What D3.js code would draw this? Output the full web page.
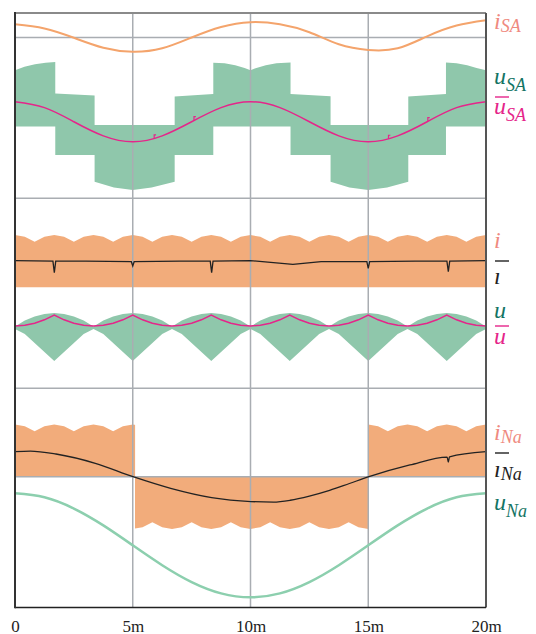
<!DOCTYPE html>
<html>
<head>
<meta charset="utf-8">
<script src="https://cdn.jsdelivr.net/npm/d3@7"></script>
<style>
  body { margin: 0; background: #fff; }
  svg { display: block; }
</style>
</head>
<body>
<div id="chart"></div>
<script>
// ---- data (time in ms) ----
const tickMs = [0, 5, 10, 15, 20];
const tickLabels = ['0', '5m', '10m', '15m', '20m'];

// 1.25 ms samples for the slow traces
const tSine = [0, 1.25, 2.5, 3.75, 5, 6.25, 7.5, 8.75, 10, 11.25, 12.5, 13.75, 15, 16.25, 17.5, 18.75, 20];
const iSA = [0.88, 0.6, -0.02, -0.68, -0.95, -0.72, 0.0, 0.7, 1.02, 0.88, 0.35, -0.45, -0.83, -0.72, 0.08, 0.8, 1.15];
const uSAmean = [0.75, 0.56, 0.105, -0.35, -0.54, -0.35, 0.105, 0.56, 0.75, 0.56, 0.105, -0.35, -0.54, -0.35, 0.105, 0.56, 0.75];
const uNa = [1, 0.924, 0.707, 0.383, 0, -0.383, -0.707, -0.924, -1, -0.924, -0.707, -0.383, 0, 0.383, 0.707, 0.924, 1];

// u_SA multilevel PWM band (upper / lower envelope, in level steps)
const uSaT  = [0, 0.4, 0.85, 1.3, 1.71, 1.71, 3.38, 3.38, 4.2, 5.0, 5.8, 6.78, 6.78, 8.42, 8.42, 8.9, 9.35, 9.75, 10,
               10.25, 10.65, 11.1, 11.7, 11.7, 13.4, 13.4, 14.2, 15.0, 15.8, 16.7, 16.7, 18.3, 18.3, 18.75, 19.2, 19.6, 20];
const uSaHi = [1.77, 1.88, 1.96, 2.01, 2.03, 1.02, 0.95, 0, 0, 0, 0, 0, 0.92, 1.0, 2.01, 1.99, 1.93, 1.84, 1.77,
               1.84, 1.93, 1.99, 2.02, 1.0, 0.93, 0, 0, 0, 0, 0, 0.92, 1.0, 2.02, 1.99, 1.93, 1.84, 1.77];
const uSaLo = [-0.05, -0.05, -0.05, -0.05, -0.05, -0.97, -0.97, -1.83, -2.02, -2.1, -2.02, -1.83, -0.97, -0.97, -0.05, -0.05, -0.05, -0.05, -0.05,
               -0.05, -0.05, -0.05, -0.05, -0.97, -0.97, -1.83, -2.02, -2.1, -2.02, -1.83, -0.97, -0.97, -0.05, -0.05, -0.05, -0.05, -0.05];
const uSaSpikeT = [5.91, 7.6, 15.86, 17.53];
const uSaSpikeV = [-0.44, 0.15, -0.45, 0.12];

// 5/12 ms samples for the ripple traces
const tRip = d3.range(49).map(k => k * 5 / 12);
const iTop = [1, .966, .87, .966, 1, .966, .87, .966, 1, .966, .87, .966, 1, .966, .87, .966, 1, .966, .87, .966,
              1, .966, .87, .966, 1, .966, .87, .966, 1, .966, .87, .966, 1, .966, .87, .966, 1, .966, .87, .966,
              1, .966, .87, .966, 1, .966, .87, .966, 1];
const uTop = [.866, .924, .966, .991, 1, .991, .966, .924, .866, .924, .966, .991, 1, .991, .966, .924,
              .866, .924, .966, .991, 1, .991, .966, .924, .866, .924, .966, .991, 1, .991, .966, .924,
              .866, .924, .966, .991, 1, .991, .966, .924, .866, .924, .966, .991, 1, .991, .966, .924, .866];
const uBot = [.84, .79, .70, .61, .52, .61, .70, .79, .84, .79, .70, .61, .52, .61, .70, .79,
              .84, .79, .70, .61, .52, .61, .70, .79, .84, .79, .70, .61, .52, .61, .70, .79,
              .84, .79, .70, .61, .52, .61, .70, .79, .84, .79, .70, .61, .52, .61, .70, .79, .84];
const uMean = [.87, .877, .897, .932, .98, .932, .897, .877, .87, .877, .897, .932, .98, .932, .897, .877,
               .87, .877, .897, .932, .98, .932, .897, .877, .87, .877, .897, .932, .98, .932, .897, .877,
               .87, .877, .897, .932, .98, .932, .897, .877, .87, .877, .897, .932, .98, .932, .897, .877, .87];

// mean DC-link current with its notches
const iMeanT = [0, 1.61, 1.67, 1.73, 3.0, 4.94, 5.0, 5.06, 7.0, 8.29, 8.35, 8.41, 10, 11.8, 13.0, 14.94, 15.0, 15.06, 17.0, 18.34, 18.4, 18.46, 20];
const iMeanV = [.51, .50, .28, .50, .50, .49, .41, .49, .50, .50, .28, .50, .51, .44, .49, .49, .36, .49, .50, .50, .30, .50, .51];

// mean neutral-arm current
const iNaMeanT = [0, 0.65, 1.74, 3.41, 5.01, 6.61, 8.35, 10.02, 10.97, 11.69, 12.5, 13.36, 14.2, 15.03, 16.77, 18.35, 18.4, 18.45, 20];
const iNaMeanV = [.478, .49, .434, .256, 0, -.223, -.40, -.475, -.485, -.45, -.37, -.26, -.13, 0, .224, .375, .28, .38, .478];
const iNaSwitch = [5.1, 15.03];

// ---- layout ----
const W = 536, H = 634;
const plotL = 15, plotR = 486, plotT = 13, plotB = 607.5;
const serif = "'Liberation Serif', 'DejaVu Serif', serif";
const col = {
  orangeLine: '#f4a46c', orangeBand: '#f2ac7b', greenBand: '#8fc7ab', greenLine: '#8ccfae',
  pink: '#e5258a', ink: '#222', grid: '#a9adb2', salmon: '#ef8a80', teal: '#137464'
};

const svg = d3.select('#chart').append('svg').attr('width', W).attr('height', H);
const x = d3.scaleLinear().domain([0, 20]).range([plotL, plotR]);

const yISA = d3.scaleLinear().domain([-1, 1]).range([52.5, 22.5]);
const yUSA = d3.scaleLinear().domain([-2, 2]).range([187, 63]);
const yI = d3.scaleLinear().domain([0, 1]).range([287.3, 235]);
const yU = d3.scaleLinear().domain([0, 1]).range([413, 313]);
const yINa = d3.scaleLinear().domain([-1, 1]).range([529, 424.4]);
const yUNa = d3.scaleLinear().domain([-1, 1]).range([597.3, 493.3]);

const zip = (ts, ...cols) => ts.map((t, k) => [t, ...cols.map(c => c[k])]);

// clip paths for the neutral-arm current sign
const defs = svg.append('defs');
defs.append('clipPath').attr('id', 'posNa').selectAll('rect')
  .data([[0, iNaSwitch[0]], [iNaSwitch[1], 20]]).join('rect')
  .attr('x', d => x(d[0])).attr('width', d => x(d[1]) - x(d[0]))
  .attr('y', 0).attr('height', H);
defs.append('clipPath').attr('id', 'negNa').append('rect')
  .attr('x', x(iNaSwitch[0])).attr('width', x(iNaSwitch[1]) - x(iNaSwitch[0]))
  .attr('y', 0).attr('height', H);

// ---- bands ----
const bands = svg.append('g');
bands.append('path')
  .datum(zip(uSaT, uSaHi, uSaLo))
  .attr('fill', col.greenBand)
  .attr('d', d3.area().x(d => x(d[0])).y0(d => yUSA(d[2])).y1(d => yUSA(d[1])));

bands.append('path')
  .datum(zip(tRip, iTop))
  .attr('fill', col.orangeBand)
  .attr('d', d3.area().x(d => x(d[0])).y0(yI(0)).y1(d => yI(d[1])));

bands.append('path')
  .datum(zip(tRip, uTop, uBot))
  .attr('fill', col.greenBand)
  .attr('d', d3.area().x(d => x(d[0])).y0(d => yU(d[2])).y1(d => yU(d[1])));

bands.append('path')
  .datum(zip(tRip, iTop))
  .attr('fill', col.orangeBand)
  .attr('clip-path', 'url(#posNa)')
  .attr('d', d3.area().x(d => x(d[0])).y0(yINa(0)).y1(d => yINa(d[1])));

bands.append('path')
  .datum(zip(tRip, iTop))
  .attr('fill', col.orangeBand)
  .attr('clip-path', 'url(#negNa)')
  .attr('d', d3.area().x(d => x(d[0])).y0(yINa(0)).y1(d => yINa(-d[1])));

// ---- grid ----
const grid = svg.append('g').attr('stroke', col.grid).attr('stroke-width', 1.5);
grid.selectAll('line.v').data(tickMs.slice(1, -1)).join('line')
  .attr('class', 'v')
  .attr('x1', d => x(d)).attr('x2', d => x(d)).attr('y1', plotT).attr('y2', plotB);
grid.selectAll('line.h').data([yISA(0), 198.3, 388.3, yINa(0)]).join('line')
  .attr('class', 'h')
  .attr('x1', plotL).attr('x2', plotR).attr('y1', d => d).attr('y2', d => d);

// ---- traces ----
const traces = svg.append('g').attr('fill', 'none');
traces.append('path')
  .datum(zip(tSine, iSA))
  .attr('stroke', col.orangeLine).attr('stroke-width', 2)
  .attr('d', d3.line().curve(d3.curveNatural).x(d => x(d[0])).y(d => yISA(d[1])));

traces.append('path')
  .datum(zip(tSine, uSAmean))
  .attr('stroke', col.pink).attr('stroke-width', 1.5)
  .attr('d', d3.line().curve(d3.curveNatural).x(d => x(d[0])).y(d => yUSA(d[1])));

traces.selectAll('path.spike')
  .data(zip(uSaSpikeT, uSaSpikeV)).join('path')
  .attr('class', 'spike')
  .attr('stroke', col.pink).attr('stroke-width', 1.2)
  .attr('d', d => d3.line()([[x(d[0]), yUSA(d[1])], [x(d[0]), yUSA(d[1] + 0.12)], [x(d[0] + 0.08), yUSA(d[1] + 0.12)]]));

traces.append('path')
  .datum(zip(iMeanT, iMeanV))
  .attr('stroke', col.ink).attr('stroke-width', 1.3)
  .attr('d', d3.line().x(d => x(d[0])).y(d => yI(d[1])));

traces.append('path')
  .datum(zip(tRip, uMean))
  .attr('stroke', col.pink).attr('stroke-width', 1.5)
  .attr('d', d3.line().x(d => x(d[0])).y(d => yU(d[1])));

traces.append('path')
  .datum(zip(iNaMeanT, iNaMeanV))
  .attr('stroke', col.ink).attr('stroke-width', 1.3)
  .attr('d', d3.line().curve(d3.curveMonotoneX).x(d => x(d[0])).y(d => yINa(d[1])));

traces.append('path')
  .datum(zip(tSine, uNa))
  .attr('stroke', col.greenLine).attr('stroke-width', 2.5)
  .attr('d', d3.line().curve(d3.curveNatural).x(d => x(d[0])).y(d => yUNa(d[1])));

// ---- frame ----
const frame = svg.append('g');
frame.append('line').attr('x1', plotL).attr('x2', plotR).attr('y1', plotT).attr('y2', plotT)
  .attr('stroke', '#8a8a8a').attr('stroke-width', 2);
frame.append('line').attr('x1', plotR).attr('x2', plotR).attr('y1', plotT).attr('y2', plotB)
  .attr('stroke', '#555').attr('stroke-width', 2);
frame.append('line').attr('x1', plotL).attr('x2', plotR).attr('y1', plotB).attr('y2', plotB)
  .attr('stroke', '#222').attr('stroke-width', 1.5);
frame.append('line').attr('x1', plotL).attr('x2', plotL).attr('y1', plotT - 1).attr('y2', plotB + 0.75)
  .attr('stroke', '#333').attr('stroke-width', 2);

// ---- x axis labels ----
const axis = d3.axisBottom(x).tickValues(tickMs).tickSize(0).tickPadding(0)
  .tickFormat((d, k) => tickLabels[k]);
const ax = svg.append('g').attr('transform', `translate(0,${plotB})`).call(axis);
ax.select('.domain').remove();
ax.selectAll('text')
  .attr('dy', null).attr('y', 24)
  .style('font-family', serif).style('font-size', '17px').attr('fill', '#222');

// ---- trace labels ----
const labelMain = ['i', 'u', 'u', 'i', 'ı', 'u', 'u', 'i', 'ı', 'u'];
const labelSub = ['SA', 'SA', 'SA', '', '', '', '', 'Na', 'Na', 'Na'];
const labelBar = [false, false, true, false, true, false, true, false, true, false];
const labelColor = [col.salmon, col.teal, col.pink, col.salmon, col.ink, col.teal, col.pink, col.salmon, col.ink, col.teal];
const labelY = [29, 84, 114, 248, 284, 318, 344, 440, 477, 510];
const subDy = [3, 7, 7, 0, 0, 0, 0, 3, 3, 7];
const barDy = [0, 0, 17, 0, 23, 0, 18, 0, 24, 0];

const lab = svg.append('g');
labelMain.forEach((m, k) => {
  const t = lab.append('text').attr('x', 494).attr('y', labelY[k]).attr('fill', labelColor[k])
    .style('font-family', serif).style('font-style', 'italic');
  t.append('tspan').style('font-size', '24px').text(m);
  if (labelSub[k]) t.append('tspan').style('font-size', '18px').attr('dy', subDy[k]).text(labelSub[k]);
  if (labelBar[k]) {
    lab.append('line')
      .attr('x1', 495).attr('x2', 509)
      .attr('y1', labelY[k] - barDy[k]).attr('y2', labelY[k] - barDy[k])
      .attr('stroke', labelColor[k]).attr('stroke-width', 1.4);
  }
});
</script>
</body>
</html>
